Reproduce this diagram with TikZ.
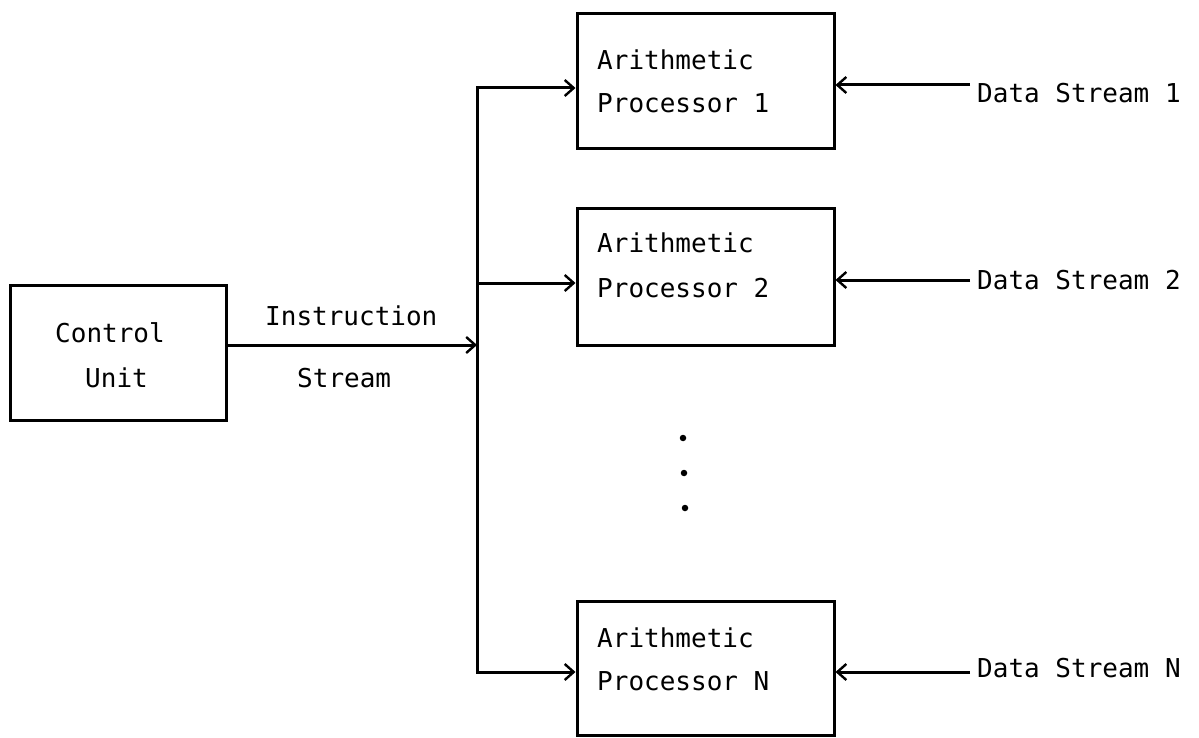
\documentclass[tikz,border=0pt]{standalone}
\usepackage{fontspec}
\setmonofont{DejaVu Sans Mono}
\usetikzlibrary{arrows.meta}
\tikzset{
  blk/.style={draw=black, line width=3pt, inner sep=0pt, fill=none},
  txt/.style={font=\ttfamily\fontsize{26}{26}\selectfont, inner sep=0pt, anchor=base west},
  wire/.style={draw=black, line width=3pt},
  arr/.style={wire, -{Straight Barb[length=9pt,width=16pt,line width=2.4pt]}},
  dot/.style={circle, fill=black, inner sep=0pt, minimum size=6.5pt}
}
\begin{document}
\begin{tikzpicture}[x=1pt,y=-1pt]
  \fill[white] (0,0) rectangle (1199,738);
  \useasboundingbox (0,0) rectangle (1199,738);

  % blocks
  \node[blk, minimum width=216pt, minimum height=135pt] (cu) at (118,352.5) {};
  \node[blk, minimum width=257pt, minimum height=135pt] (ap1) at (705.5,81.5) {};
  \node[blk, minimum width=257pt, minimum height=136pt] (ap2) at (705.5,277) {};
  \node[blk, minimum width=257pt, minimum height=134pt] (apn) at (705.5,668) {};

  % block labels
  \node[txt] (cut1) at (55,342) {Control};
  \node[txt] (cut2) at (85,387) {Unit};
  \node[txt] (a1t1) at (597,70) {Arithmetic};
  \node[txt] (a1t2) at (597,113) {Processor 1};
  \node[txt] (a2t1) at (597,252) {Arithmetic};
  \node[txt] (a2t2) at (597,297) {Processor 2};
  \node[txt] (ant1) at (597,647) {Arithmetic};
  \node[txt] (ant2) at (597,690) {Processor N};

  % instruction stream, bus and branches
  \node[txt] (ins1) at (265,325) {Instruction};
  \node[txt] (ins2) at (297,387) {Stream};
  \coordinate (bin) at (477,345);
  \coordinate (btop) at (477,88);
  \coordinate (bmid) at (477,283);
  \coordinate (bbot) at (477,672);
  \draw[arr] (cu.east |- bin) -- (bin);
  \draw[wire, line cap=rect] (btop) -- (bbot);
  \draw[arr] (btop) -- (ap1.west |- btop);
  \draw[arr] (bmid) -- (ap2.west |- bmid);
  \draw[arr] (bbot) -- (apn.west |- bbot);

  % data streams
  \coordinate (d1) at (970,85);
  \coordinate (d2) at (970,280);
  \coordinate (dn) at (970,672);
  \draw[arr] (d1) -- (ap1.east |- d1);
  \draw[arr] (d2) -- (ap2.east |- d2);
  \draw[arr] (dn) -- (apn.east |- dn);
  \node[txt] (ds1) at (977,103) {Data Stream 1};
  \node[txt] (ds2) at (977,289) {Data Stream 2};
  \node[txt] (dsn) at (977,677) {Data Stream N};

  % ellipsis between processors
  \node[dot] (e1) at (683,438) {};
  \node[dot] (e2) at (684,473) {};
  \node[dot] (e3) at (685,508) {};
\end{tikzpicture}
\end{document}
